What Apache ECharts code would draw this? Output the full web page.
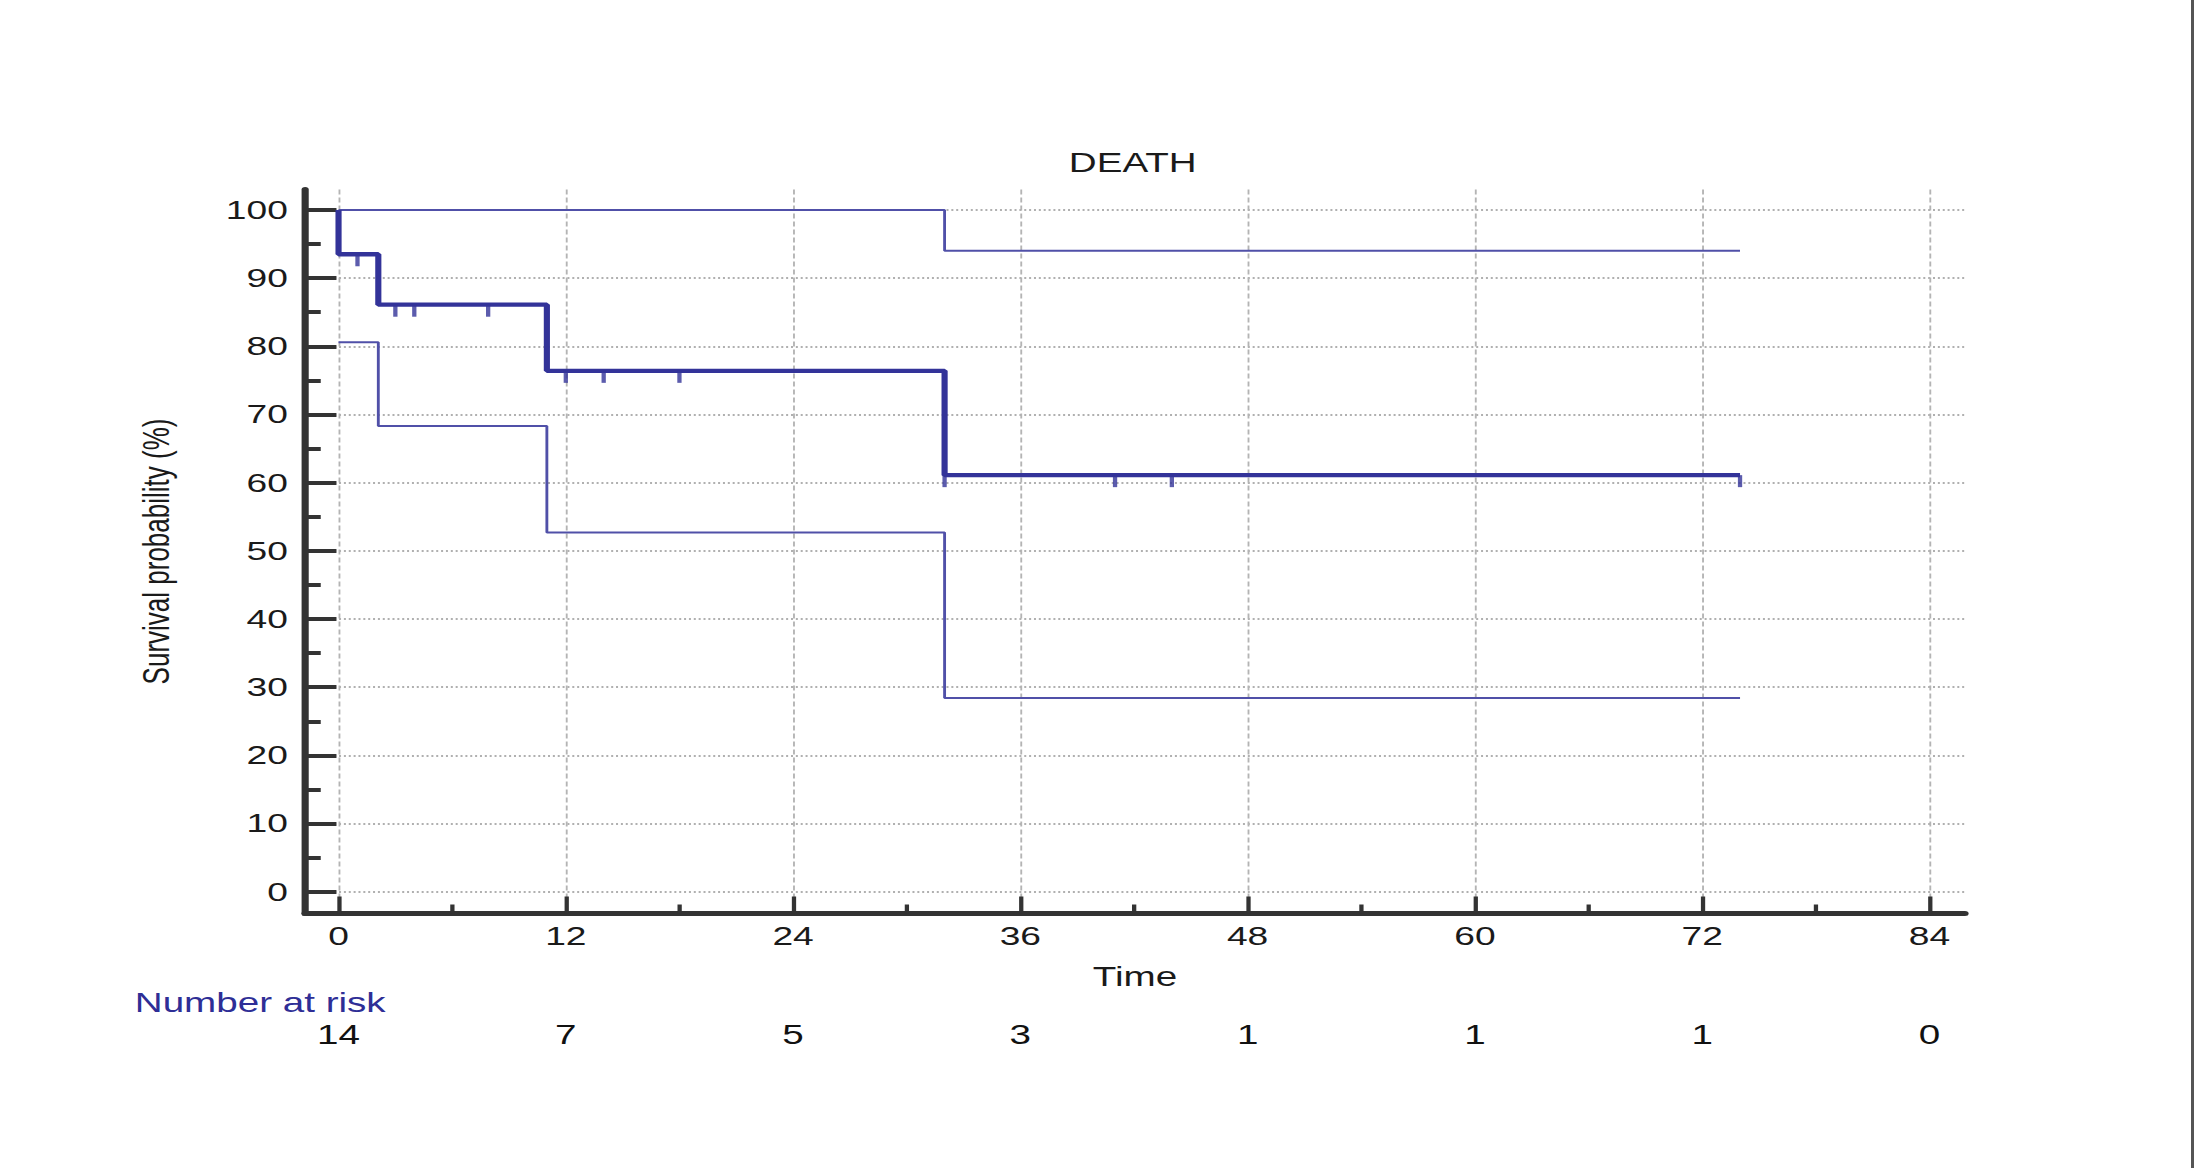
<!DOCTYPE html>
<html>
<head>
<meta charset="utf-8">
<script src="https://cdn.jsdelivr.net/npm/echarts@6.0.0/dist/echarts.min.js"></script>
<style>
  html, body { margin: 0; padding: 0; background: #fff; overflow: hidden; }
  /* the source picture is stretched sideways, so the chart is drawn narrow and scaled */
  #chart { position: absolute; left: 0; top: 0; width: 1535px; height: 1168px;
           transform: scaleX(1.42932); transform-origin: 0 0; }
  #edge { position: absolute; right: 0; top: 0; width: 3px; height: 1168px; background: #555; }
</style>
</head>
<body>
<div id="chart"></div>
<div id="edge"></div>
<script>
// Kaplan-Meier estimate (time in months, survival in %)
const kmTime = [0, 0, 2.1, 11, 32, 74];
const kmSurv = [100, 93.5, 86.1, 76.4, 61.1, 61.1];
// 95% confidence band
const lowTime = [0, 2.1, 11, 32, 74];
const lowSurv = [80.6, 68.3, 52.7, 28.4, 28.4];
const highTime = [0, 32, 74];
const highSurv = [100, 94.0, 94.0];
// censored observations
const censorTime = [1, 3, 4, 7.9, 12, 14, 18, 32, 41, 44, 74];
const censorSurv = [93.5, 86.1, 86.1, 86.1, 76.4, 76.4, 76.4, 61.1, 61.1, 61.1, 61.1];
// axes
const xTicks = [0, 12, 24, 36, 48, 60, 72, 84];
const xMinor = [6, 18, 30, 42, 54, 66, 78];
const yTicks = [0, 10, 20, 30, 40, 50, 60, 70, 80, 90, 100];
const yMinor = [5, 15, 25, 35, 45, 55, 65, 75, 85, 95];
// number at risk under each x tick
const riskTime = [0, 12, 24, 36, 48, 60, 72, 84];
const riskCount = [14, 7, 5, 3, 1, 1, 1, 0];

const zip = (a, b) => a.map((v, i) => [v, b[i]]);

const font = 'Arial, "Liberation Sans", sans-serif';
const curveColor = '#333399';
const bandColor = '#5050a8';
const xMin = -1.77, xMax = 85.88;
const yMin = -3.2, yMax = 103;

const chart = echarts.init(document.getElementById('chart'), null, { renderer: 'svg' });

const option = {
  animation: false,
  backgroundColor: '#ffffff',
  textStyle: { fontFamily: font },
  title: [
    {
      text: 'DEATH', left: 792.5, top: 149, padding: 0, textAlign: 'center',
      textStyle: { fontFamily: font, fontSize: 27, fontWeight: 'normal', color: '#1a1a1a' }
    },
    {
      text: 'Number at risk', left: 94.3, top: 989, padding: 0,
      textStyle: { fontFamily: font, fontSize: 27, fontWeight: 'normal', color: '#2e2e96' }
    }
  ],
  grid: { left: 213.4, right: 160.2, top: 189.5, bottom: 254.5, containLabel: false, outerBoundsMode: 'none' },
  xAxis: [
    {
      type: 'value', min: xMin, max: xMax, position: 'bottom',
      name: 'Time', nameLocation: 'middle', nameGap: 50,
      nameTextStyle: { fontFamily: font, fontSize: 27, color: '#1a1a1a' },
      axisLine: { show: true, onZero: false, lineStyle: { color: '#333', width: 5 } },
      axisTick: { show: true, inside: true, length: 17, customValues: xTicks,
                  lineStyle: { color: '#333', width: 3 } },
      axisLabel: { show: true, customValues: xTicks, margin: 10, fontSize: 26,
                   color: '#1a1a1a', fontFamily: font },
      splitLine: { show: true, lineStyle: { color: '#b4b4b4', width: 1.3, type: [5, 3] } }
    },
    {
      type: 'value', min: xMin, max: xMax, position: 'bottom',
      axisLine: { show: false, onZero: false },
      axisTick: { show: true, inside: true, length: 9, customValues: xMinor,
                  lineStyle: { color: '#333', width: 3 } },
      axisLabel: { show: false },
      splitLine: { show: false }
    },
    {
      type: 'value', min: xMin, max: xMax, position: 'bottom',
      axisLine: { show: false, onZero: false },
      axisTick: { show: false },
      axisLabel: {
        show: true, customValues: riskTime, margin: 108, fontSize: 27,
        color: '#111', fontFamily: font,
        formatter: v => String(riskCount[riskTime.indexOf(v)])
      },
      splitLine: { show: false }
    }
  ],
  yAxis: [
    {
      type: 'value', min: yMin, max: yMax,
      name: 'Survival probability (%)', nameLocation: 'middle', nameGap: 91,
      nameTextStyle: { fontFamily: font, fontSize: 26, color: '#1a1a1a' },
      axisLine: { show: true, onZero: false, lineStyle: { color: '#333', width: 5 } },
      axisTick: { show: true, inside: true, length: 22, customValues: yTicks,
                  lineStyle: { color: '#333', width: 4 } },
      axisLabel: { show: true, customValues: yTicks, margin: 12, fontSize: 26,
                   color: '#1a1a1a', fontFamily: font },
      splitLine: { show: true, lineStyle: { color: '#b0b0b0', width: 2, type: [1.4, 2] } }
    },
    {
      type: 'value', min: yMin, max: yMax, position: 'left',
      axisLine: { show: false, onZero: false },
      axisTick: { show: true, inside: true, length: 11, customValues: yMinor,
                  lineStyle: { color: '#333', width: 4 } },
      axisLabel: { show: false },
      splitLine: { show: false }
    }
  ],
  series: [
    {
      name: 'upper 95% CI', type: 'line', step: 'end', symbol: 'none',
      data: zip(highTime, highSurv),
      lineStyle: { color: bandColor, width: 2 }, z: 2
    },
    {
      name: 'lower 95% CI', type: 'line', step: 'end', symbol: 'none',
      data: zip(lowTime, lowSurv),
      lineStyle: { color: bandColor, width: 2 }, z: 2
    },
    {
      name: 'survival', type: 'line', step: 'end', symbol: 'none',
      data: zip(kmTime, kmSurv),
      lineStyle: { color: curveColor, width: 4.3 }, z: 3
    },
    {
      name: 'censored', type: 'scatter', symbol: 'rect',
      symbolSize: [3, 12], symbolOffset: [0, 6],
      data: zip(censorTime, censorSurv),
      itemStyle: { color: curveColor }, z: 4
    }
  ]
};

chart.setOption(option);
</script>
</body>
</html>
